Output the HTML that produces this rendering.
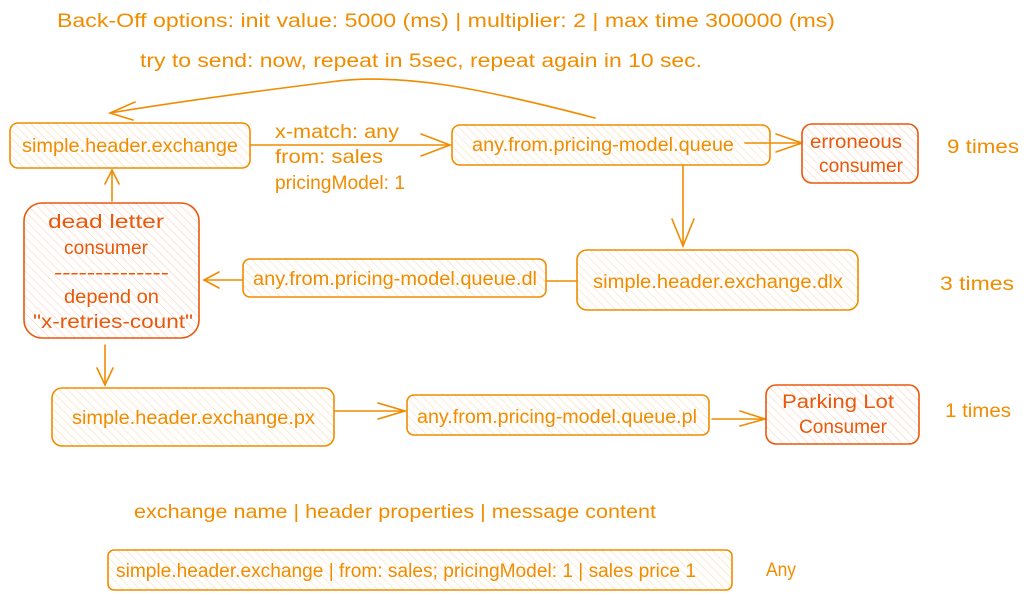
<!DOCTYPE html>
<html><head><meta charset="utf-8"><style>
html,body{margin:0;padding:0;background:#fff;}
svg{display:block}
text{font-family:"Liberation Sans",sans-serif;font-size:19px;}
.o{fill:#f08c00}.r{fill:#e8590c}
.bo{fill:url(#ho);stroke:#f08c00;stroke-width:1.6}
.br{fill:url(#hr);stroke:#e8590c;stroke-width:1.6}
.l{fill:none;stroke:#f08c00;stroke-width:1.6;stroke-linecap:round}
</style></head><body>
<svg width="1028" height="601" viewBox="0 0 1028 601" xmlns="http://www.w3.org/2000/svg">
<defs>
<pattern id="ho" width="6" height="6" patternUnits="userSpaceOnUse" patternTransform="rotate(-45)"><rect width="6" height="6" fill="#fff"/><line x1="0" y1="0" x2="0" y2="6" stroke="#f7cf94" stroke-width="0.8"/></pattern>
<pattern id="hr" width="6" height="6" patternUnits="userSpaceOnUse" patternTransform="rotate(-45)"><rect width="6" height="6" fill="#fff"/><line x1="0" y1="0" x2="0" y2="6" stroke="#f5bfa0" stroke-width="0.8"/></pattern>
</defs>

<text class="o" x="57" y="27" font-size="20" textLength="778" lengthAdjust="spacingAndGlyphs">Back-Off options: init value: 5000 (ms) | multiplier: 2 | max time 300000 (ms)</text>
<text class="o" x="140" y="67" font-size="20" textLength="562" lengthAdjust="spacingAndGlyphs">try to send: now, repeat in 5sec, repeat again in 10 sec.</text>

<path class="l" d="M595,118 C480,88 400,72 330,82 C250,92 170,103 110,113"/>
<path class="l" d="M135,102 L110,113 L133,120"/>

<rect class="bo" x="10" y="123" width="240" height="45" rx="8"/>
<text class="o" x="22" y="152" textLength="216" lengthAdjust="spacingAndGlyphs">simple.header.exchange</text>

<path class="l" d="M250,145 L450,145"/>
<path class="l" d="M421,134 L450,145 L421,156"/>
<text class="o" x="275" y="138" textLength="124" lengthAdjust="spacingAndGlyphs">x-match: any</text>
<text class="o" x="275" y="163" textLength="108" lengthAdjust="spacingAndGlyphs">from: sales</text>
<text class="o" x="275" y="189" textLength="130" lengthAdjust="spacingAndGlyphs">pricingModel: 1</text>

<rect class="bo" x="452" y="125" width="318" height="40" rx="8"/>
<text class="o" x="472" y="151" textLength="262" lengthAdjust="spacingAndGlyphs">any.from.pricing-model.queue</text>

<path class="l" d="M745,143 L802,143"/>
<path class="l" d="M776,134 L802,143 L776,152"/>

<rect class="br" x="802" y="124" width="116" height="59" rx="10"/>
<text class="r" x="810" y="148" textLength="92" lengthAdjust="spacingAndGlyphs">erroneous</text>
<text class="r" x="819" y="172" textLength="84" lengthAdjust="spacingAndGlyphs">consumer</text>
<text class="o" x="947" y="153" textLength="72" lengthAdjust="spacingAndGlyphs">9 times</text>

<path class="l" d="M683,166 L683,246"/>
<path class="l" d="M672,219 L683,246 L694,219"/>

<rect class="bo" x="577" y="250" width="281" height="60" rx="10"/>
<text class="o" x="593" y="288" textLength="250" lengthAdjust="spacingAndGlyphs">simple.header.exchange.dlx</text>
<text class="o" x="940" y="290" textLength="74" lengthAdjust="spacingAndGlyphs">3 times</text>

<path class="l" d="M577,281 L546,281"/>

<rect class="bo" x="243" y="259" width="303" height="38" rx="7"/>
<text class="o" x="253" y="285" textLength="284" lengthAdjust="spacingAndGlyphs">any.from.pricing-model.queue.dl</text>

<path class="l" d="M243,280 L204,280"/>
<path class="l" d="M219,272 L204,280 L219,288"/>

<rect class="br" x="24" y="203" width="175" height="135" rx="18"/>
<text class="r" x="48" y="228" textLength="116" lengthAdjust="spacingAndGlyphs">dead letter</text>
<text class="r" x="64" y="254" textLength="84" lengthAdjust="spacingAndGlyphs">consumer</text>
<text class="r" x="54" y="279" textLength="115" lengthAdjust="spacingAndGlyphs">--------------</text>
<text class="r" x="64" y="303" textLength="95" lengthAdjust="spacingAndGlyphs">depend on</text>
<text class="r" x="33" y="328" textLength="160" lengthAdjust="spacingAndGlyphs">"x-retries-count"</text>

<path class="l" d="M112,201 L112,170"/>
<path class="l" d="M105,184 L112,170 L119,184"/>

<path class="l" d="M105,345 L105,385"/>
<path class="l" d="M97,368 L105,385 L113,368"/>

<rect class="bo" x="52" y="388" width="282" height="58" rx="10"/>
<text class="o" x="72" y="424" textLength="243" lengthAdjust="spacingAndGlyphs">simple.header.exchange.px</text>

<path class="l" d="M334,411 L405,411"/>
<path class="l" d="M378,403 L405,411 L378,419"/>

<rect class="bo" x="407" y="395" width="302" height="40" rx="7"/>
<text class="o" x="417" y="423" textLength="280" lengthAdjust="spacingAndGlyphs">any.from.pricing-model.queue.pl</text>

<path class="l" d="M712,419 L765,419"/>
<path class="l" d="M740,411 L765,419 L740,426"/>

<rect class="br" x="766" y="385" width="153" height="59" rx="10"/>
<text class="r" x="782" y="408" textLength="112" lengthAdjust="spacingAndGlyphs">Parking Lot</text>
<text class="r" x="799" y="433" textLength="88" lengthAdjust="spacingAndGlyphs">Consumer</text>
<text class="o" x="945" y="417" textLength="66" lengthAdjust="spacingAndGlyphs">1 times</text>

<text class="o" x="134" y="518" textLength="522" lengthAdjust="spacingAndGlyphs">exchange name | header properties | message content</text>

<rect class="bo" x="108" y="550" width="624" height="40" rx="6"/>
<text class="o" x="116" y="577" textLength="580" lengthAdjust="spacingAndGlyphs">simple.header.exchange | from: sales; pricingModel: 1 | sales price 1</text>
<text class="o" x="766" y="576" textLength="30" lengthAdjust="spacingAndGlyphs">Any</text>
</svg>
</body></html>
